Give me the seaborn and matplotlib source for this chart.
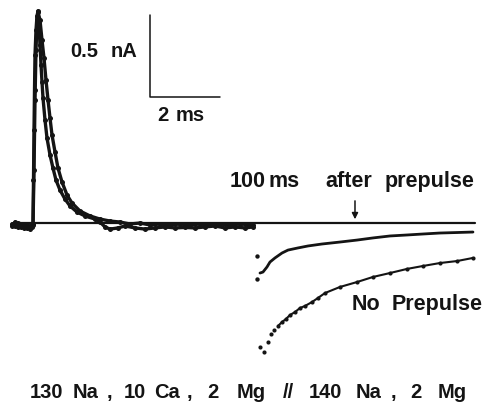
import numpy as np
import pandas as pd
import matplotlib
matplotlib.use("Agg")
import matplotlib.pyplot as plt
import seaborn as sns

# ---- recorded currents: time (ms from pulse onset), current (nA) ----
# Outward tail, two superimposed sweeps (left panel)
sweep_a_t = [-0.60, -0.51, -0.43, -0.34, -0.26, -0.17, -0.09, -0.03,
             0.0, 0.014, 0.029, 0.043, 0.057, 0.086, 0.114, 0.143,
             0.171, 0.200, 0.229, 0.257, 0.286, 0.343, 0.400, 0.486, 0.571,
             0.657, 0.771, 0.914, 1.057, 1.257, 1.486, 1.771, 1.914,
             2.057, 2.200, 2.429, 2.629, 2.914, 3.200, 3.486, 3.771, 4.057,
             4.343, 4.629, 4.914, 5.200, 5.486, 5.771, 6.057, 6.286]
sweep_a_i = [-0.018, 0.006, -0.024, -0.006, -0.030, -0.012, -0.037, -0.018,
             -0.006, 0.262, 0.567, 0.811, 1.024, 1.177, 1.262, 1.293,
             1.207, 1.085, 0.963, 0.860, 0.762, 0.628, 0.518, 0.415, 0.335,
             0.262, 0.201, 0.146, 0.104, 0.067, 0.043, 0.024, 0.006,
             -0.024, -0.037, -0.030, -0.018, -0.030, -0.037, -0.030, -0.024, -0.030,
             -0.027, -0.030, -0.024, -0.018, -0.030, -0.024, -0.030, -0.024]

sweep_b_t = [-0.60, -0.51, -0.43, -0.34, -0.26, -0.17, -0.09, -0.03,
             0.0, 0.029, 0.057, 0.086, 0.114, 0.143,
             0.200, 0.257, 0.314, 0.371, 0.429, 0.486, 0.543, 0.629, 0.714,
             0.829, 0.971, 1.114, 1.343, 1.629, 1.914, 2.200, 2.486,
             2.771, 3.057, 3.343, 3.629, 3.914, 4.200, 4.486, 4.771, 5.057,
             5.343, 5.629, 5.914, 6.286]
sweep_b_i = [-0.006, -0.018, 0.000, -0.024, -0.012, -0.030, -0.018, -0.024,
             -0.012, 0.323, 0.750, 1.055, 1.238, 1.287,
             1.238, 1.116, 1.006, 0.872, 0.750, 0.640, 0.537, 0.433, 0.335,
             0.250, 0.171, 0.122, 0.073, 0.043, 0.024, 0.012, 0.006,
             -0.006, 0.000, -0.012, -0.006, -0.012, -0.006, -0.012, -0.006, -0.012,
             -0.006, -0.012, -0.006, -0.012]

# Inward tails (right panel)
onset_t = [6.40, 6.40]
onset_i = [-0.201, -0.341]

after_prepulse_t = [6.486, 6.571, 6.686, 6.771, 6.914, 7.114, 7.286, 7.571,
                    7.857, 8.257, 8.771, 9.257, 9.714, 10.200, 10.686,
                    11.143, 11.629, 12.114, 12.571]
after_prepulse_i = [-0.305, -0.299, -0.268, -0.238, -0.213, -0.183, -0.165, -0.152,
                    -0.140, -0.128, -0.116, -0.104, -0.091, -0.079, -0.073,
                    -0.067, -0.061, -0.058, -0.055]

no_prepulse_t = [6.486, 6.600, 6.714, 6.800, 6.886, 7.000, 7.114, 7.229,
                 7.343, 7.486, 7.629, 7.771, 7.971, 8.143, 8.343, 8.771,
                 9.257, 9.714, 10.200, 10.686, 11.143, 11.629, 12.114, 12.571]
no_prepulse_i = [-0.756, -0.787, -0.726, -0.677, -0.652, -0.628, -0.604, -0.585,
                 -0.561, -0.543, -0.518, -0.506, -0.482, -0.457, -0.427, -0.390,
                 -0.360, -0.329, -0.305, -0.280, -0.262, -0.244, -0.232, -0.213]

zero_line_t = [-0.57, 12.63]
zero_line_i = [0.0, 0.0]

# calibration bar: 0.5 nA, 2 ms
cal_t = [3.343, 3.343, 5.343]
cal_i = [1.268, 0.768, 0.768]

arrow_t = 9.2
arrow_from = 0.152
arrow_to = 0.006

# Lettering, set word by word in widely spaced type:
# (word, left edge px, baseline px)
cal_i_words = [("0.5", 70, 57), ("nA", 111, 57)]
cal_t_words = [("2", 157, 121), ("ms", 176, 121)]
after_words = [("100", 230, 187), ("ms", 268, 187), ("after", 325, 187),
               ("prepulse", 385, 187)]
none_words = [("No", 352, 310), ("Prepulse", 392, 310)]
solution_words = [("130", 30, 398), ("Na", 73, 398), (",", 107, 398),
                  ("10", 124, 398), ("Ca", 154, 398), (",", 187, 398),
                  ("2", 207, 398), ("Mg", 237, 398), ("//", 283, 398),
                  ("140", 309, 398), ("Na", 356, 398), (",", 391, 398),
                  ("2", 410, 398), ("Mg", 438, 398)]

sns.set_theme(style="white")
plt.rcParams["font.family"] = ["Liberation Sans", "DejaVu Sans"]

ink = "#141414"
W, H = 489, 407
fig = plt.figure(figsize=(W / 100, H / 100), dpi=100)
ax = fig.add_axes([0, 0, 1, 1])
ax.set_xlim(-0.943, 13.029)
ax.set_ylim(-1.122, 1.360)
ax.axis("off")


def trace(t, i, **kw):
    df = pd.DataFrame({"t": t, "i": i})
    sns.lineplot(data=df, x="t", y="i", ax=ax, sort=False, estimator=None,
                 color=ink, **kw)


trace(zero_line_t, zero_line_i, lw=1.6)
trace(sweep_a_t, sweep_a_i, lw=2.4, marker="o", markersize=3.6,
      markeredgewidth=0)
trace(sweep_b_t, sweep_b_i, lw=2.4, marker="o", markersize=3.6,
      markeredgewidth=0)
trace(after_prepulse_t, after_prepulse_i, lw=2.0)
trace(no_prepulse_t[5:], no_prepulse_i[5:], lw=1.5)
sns.scatterplot(x=no_prepulse_t, y=no_prepulse_i, ax=ax, color=ink, s=9,
                linewidth=0)
sns.scatterplot(x=onset_t, y=onset_i, ax=ax, color=ink, s=10, linewidth=0)
trace(cal_t, cal_i, lw=1.1)

ax.annotate("", xy=(arrow_t, arrow_to), xytext=(arrow_t, arrow_from),
            arrowprops=dict(arrowstyle="-|>", color=ink, lw=1.1,
                            mutation_scale=9))


def words(items, size):
    for w, x, y in items:
        fig.text(x / W, 1 - y / H, w, ha="left", va="baseline",
                 fontsize=size, fontweight="bold", color=ink)


words(cal_i_words, 14.5)
words(cal_t_words, 14.5)
words(after_words, 15.5)
words(none_words, 15.5)
words(solution_words, 14.5)

fig.savefig("out.png", dpi=100, facecolor="white")
